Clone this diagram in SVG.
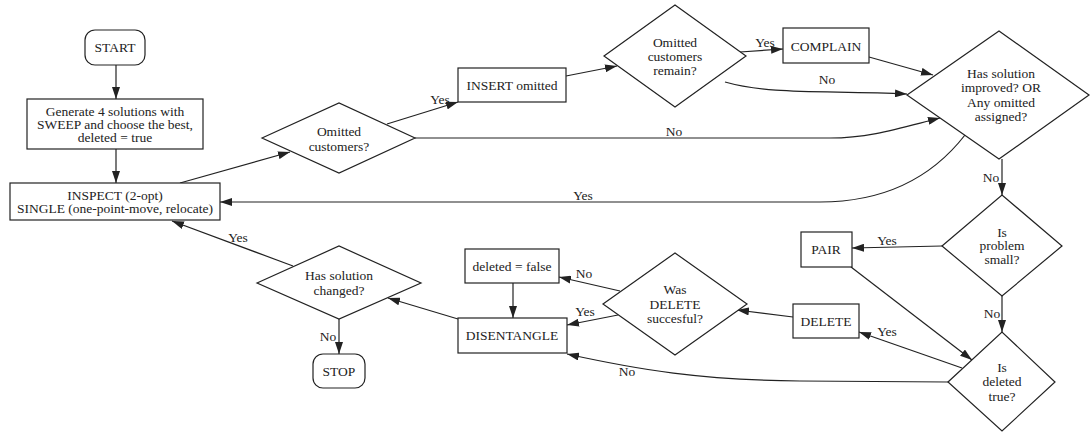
<svg xmlns="http://www.w3.org/2000/svg" width="1091" height="432" viewBox="0 0 1091 432" font-family="'Liberation Serif', 'DejaVu Serif', serif">
<style>
text{font-family:'Liberation Serif','DejaVu Serif',serif;font-size:13.5px;fill:#222;text-anchor:middle;dominant-baseline:central}
.n{fill:#fff;stroke:#222;stroke-width:1.2}
.c{fill:none;stroke:#222;stroke-width:1.2;marker-end:url(#ah)}
</style>
<defs>
<marker id="ah" viewBox="0 0 12 8" refX="12" refY="4" markerWidth="12" markerHeight="8" markerUnits="userSpaceOnUse" orient="auto">
<path d="M0,0 L12,4 L0,8 z" fill="#222"/>
</marker>
</defs>
<rect width="1091" height="432" fill="#fff"/>
<g id="connectors">
<path class="c" d="M116,65 L116,99"/>
<path class="c" d="M116,149 L116,183"/>
<path class="c" d="M180,183 L290,152"/>
<path class="c" d="M387,124 L458,102"/>
<path class="c" d="M566,76 L617,66"/>
<path class="c" d="M740,52 L783,49"/>
<path class="c" d="M725,82 C770,95 830,90 907,94"/>
<path class="c" d="M869,57 L933,75"/>
<path class="c" d="M415,138 L830,138 C870,138 900,128 940,118"/>
<path class="c" d="M965,135 C930,180 880,202 820,202 L220,202"/>
<path class="c" d="M1002,159 L1002,195"/>
<path class="c" d="M942,246 L852,248"/>
<path class="c" d="M851,267 L972,360"/>
<path class="c" d="M1002,296 L1002,332"/>
<path class="c" d="M962,368 L859,332"/>
<path class="c" d="M948,382 L800,381 C700,380 640,370 567,354"/>
<path class="c" d="M793,317 L737,310"/>
<path class="c" d="M620,291 L559,277"/>
<path class="c" d="M618,315 L567,325"/>
<path class="c" d="M513,283 L513,318"/>
<path class="c" d="M458,319 L388,298"/>
<path class="c" d="M293,266 L172,221"/>
<path class="c" d="M339,319 L339,354"/>
<text x="440" y="99">Yes</text>
<text x="765" y="42">Yes</text>
<text x="827" y="79">No</text>
<text x="674" y="131">No</text>
<text x="583" y="195">Yes</text>
<text x="991" y="177">No</text>
<text x="887" y="240">Yes</text>
<text x="992" y="313">No</text>
<text x="887" y="331">Yes</text>
<text x="627" y="371">No</text>
<text x="584" y="273">No</text>
<text x="585" y="311">Yes</text>
<text x="238" y="237">Yes</text>
<text x="328" y="336">No</text>
</g>
<g id="start">
<rect class="n" x="85" y="30" width="60" height="35" rx="10"/>
<text x="115" y="47">START</text>
</g>
<g id="generate">
<rect class="n" x="27" y="99" width="176" height="50"/>
<text x="115" y="111">Generate 4 solutions with</text>
<text x="115" y="124">SWEEP and choose the best,</text>
<text x="115" y="137">deleted = true</text>
</g>
<g id="inspect">
<rect class="n" x="10" y="183" width="210" height="37"/>
<text x="115" y="195">INSPECT (2-opt)</text>
<text x="115" y="208">SINGLE (one-point-move, relocate)</text>
</g>
<g id="omitted">
<polygon class="n" points="262,138 339,103 415,138 339,173"/>
<text x="339" y="131">Omitted</text>
<text x="339" y="146">customers?</text>
</g>
<g id="insert">
<rect class="n" x="458" y="68" width="108" height="34"/>
<text x="512" y="85">INSERT omitted</text>
</g>
<g id="remain">
<polygon class="n" points="604,56 675,5 746,56 675,107"/>
<text x="675" y="42">Omitted</text>
<text x="675" y="56">customers</text>
<text x="675" y="70">remain?</text>
</g>
<g id="complain">
<rect class="n" x="783" y="28" width="86" height="35"/>
<text x="826" y="46">COMPLAIN</text>
</g>
<g id="improved">
<polygon class="n" points="907,95 999,31 1089,95 999,159"/>
<text x="1001" y="73">Has solution</text>
<text x="1001" y="87">improved? OR</text>
<text x="1001" y="102">Any omitted</text>
<text x="1001" y="116">assigned?</text>
</g>
<g id="small">
<polygon class="n" points="942,246 1002,195 1062,246 1002,296"/>
<text x="1002" y="232">Is</text>
<text x="1002" y="245">problem</text>
<text x="1002" y="259">small?</text>
</g>
<g id="pair">
<rect class="n" x="801" y="232" width="51" height="35"/>
<text x="826" y="249">PAIR</text>
</g>
<g id="deletedtrue">
<polygon class="n" points="948,382 1002,332 1055,382 1002,431"/>
<text x="1002" y="367">Is</text>
<text x="1002" y="381">deleted</text>
<text x="1002" y="396">true?</text>
</g>
<g id="delete">
<rect class="n" x="793" y="304" width="66" height="34"/>
<text x="826" y="321">DELETE</text>
</g>
<g id="wasdelete">
<polygon class="n" points="603,304 675,253 747,304 675,355"/>
<text x="675" y="289">Was</text>
<text x="675" y="304">DELETE</text>
<text x="675" y="318">succesful?</text>
</g>
<g id="deletedfalse">
<rect class="n" x="465" y="249" width="94" height="34"/>
<text x="512" y="266">deleted = false</text>
</g>
<g id="disentangle">
<rect class="n" x="458" y="318" width="109" height="35"/>
<text x="512" y="335">DISENTANGLE</text>
</g>
<g id="changed">
<polygon class="n" points="257,283 339,246 421,283 339,319"/>
<text x="339" y="275">Has solution</text>
<text x="339" y="290">changed?</text>
</g>
<g id="stop">
<rect class="n" x="313" y="354" width="52" height="34" rx="10"/>
<text x="339" y="371">STOP</text>
</g>
</svg>
